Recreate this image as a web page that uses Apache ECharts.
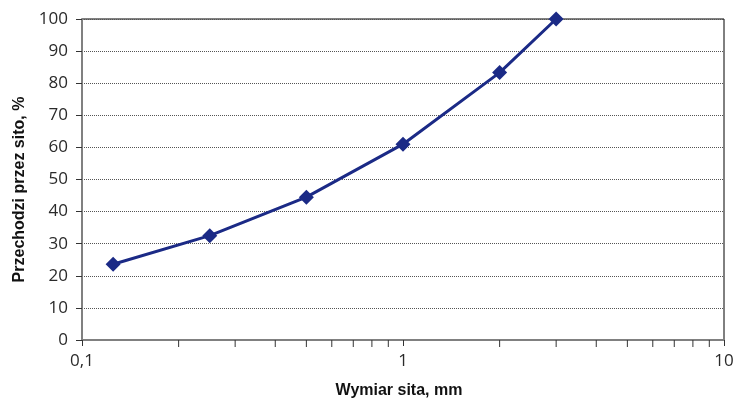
<!DOCTYPE html>
<html><head><meta charset="utf-8">
<script src="https://cdn.jsdelivr.net/npm/echarts@6/dist/echarts.min.js"></script>
<style>html,body{margin:0;padding:0;background:#fff}#c{width:745px;height:402px}</style>
</head><body><div id="c"></div>
<script>
var sieveSizes = [0.125, 0.25, 0.5, 1, 2, 3];
var passing = [23.6, 32.5, 44.5, 61.0, 83.3, 100];
var minorTickValues = [0.2,0.3,0.4,0.5,0.6,0.7,0.8,0.9,2,3,4,5,6,7,8,9];
var xName = 'Wymiar sita, mm';
var yName = 'Przechodzi przez sito, %';

var chart = echarts.init(document.getElementById('c'), null, {renderer:'canvas'});
var labelFont = {color:'#2a2a2a', fontSize:17, fontFamily:'Open Sans'};
chart.setOption({
  animation:false,
  grid:{left:82, right:21, top:19, bottom:62, outerBoundsMode:'none', containLabel:false,
        show:true, borderColor:'#000', borderWidth:1, backgroundColor:'transparent'},
  xAxis:{type:'log', logBase:10, min:0.1, max:10,
    name:xName, nameLocation:'middle', nameGap:43,
    nameTextStyle:{fontWeight:'bold', fontSize:16, color:'#111', fontFamily:'Liberation Sans', padding:[0,8,0,0]},
    axisLine:{show:true, lineStyle:{color:'#808080', width:2}},
    axisTick:{show:true, length:6, lineStyle:{color:'#333', width:1}},
    axisLabel:Object.assign({margin:13, formatter:function(v){return String(v).replace('.',',');}}, labelFont),
    splitLine:{show:false}},
  yAxis:{type:'value', min:0, max:100, interval:10,
    name:yName, nameLocation:'middle', nameGap:53,
    nameTextStyle:{fontWeight:'bold', fontSize:16, color:'#111', fontFamily:'Liberation Sans', padding:[0,20,0,0]},
    axisLine:{show:true, lineStyle:{color:'#808080', width:2}},
    axisTick:{show:true, length:6, lineStyle:{color:'#333', width:1}},
    axisLabel:Object.assign({margin:14}, labelFont),
    splitLine:{show:true, lineStyle:{color:'#555', type:[1,1], width:1}}},
  series:[
    {type:'custom', silent:true, clip:false, z:1,
     data:minorTickValues.map(function(v){return [v,0];}),
     renderItem:function(params, api){
       var p = api.coord([api.value(0), 0]);
       return {type:'line', shape:{x1:p[0], y1:p[1], x2:p[0], y2:p[1]+7}, style:{stroke:'#333', lineWidth:1}};
     }},
    {type:'line', z:3,
     data:sieveSizes.map(function(x,i){return [x, passing[i]];}),
     symbol:'diamond', symbolSize:15,
     lineStyle:{color:'#1b2a86', width:3},
     itemStyle:{color:'#1b2a86'}}
  ]
});
</script></body></html>
